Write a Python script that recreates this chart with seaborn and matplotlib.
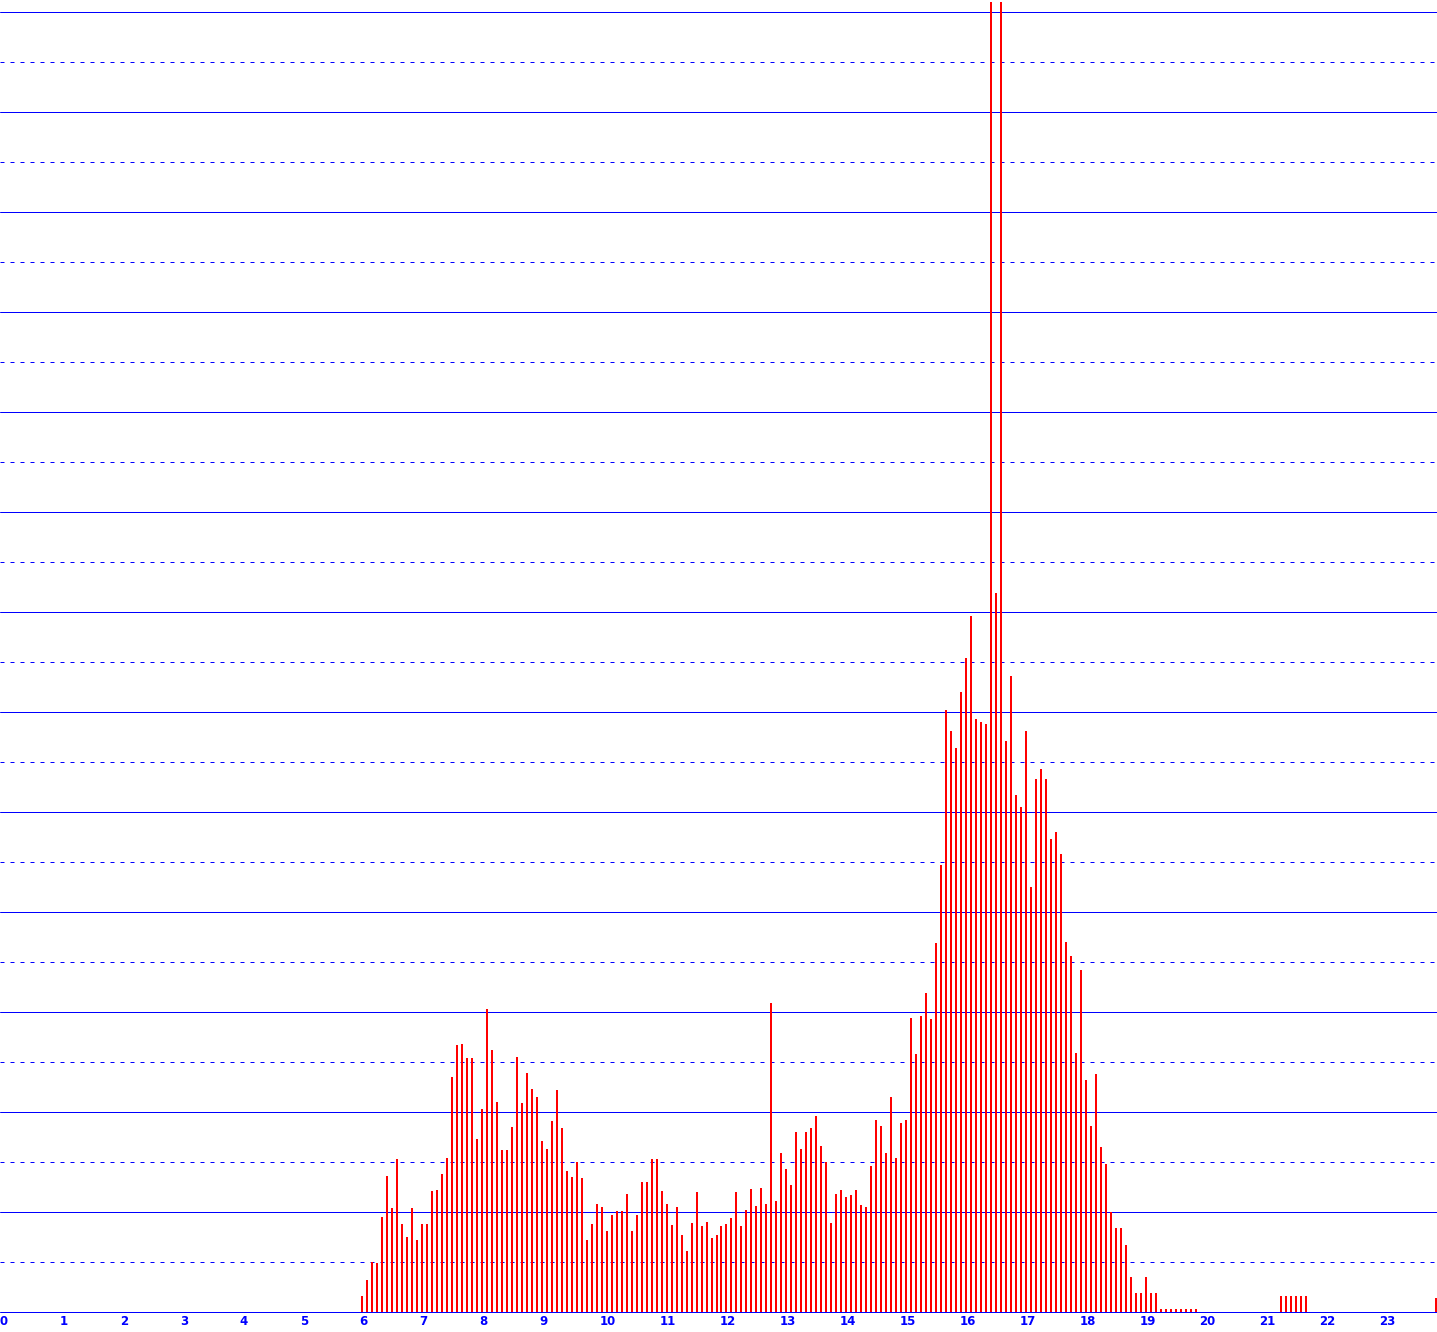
import pandas as pd
import matplotlib
matplotlib.use("Agg")  # no display
import matplotlib.pyplot as plt
import seaborn as sns

BLUE = "#0000ff"
RED = "#ff0000"

# hour labels along the bottom
hour_labels = [str(h) for h in range(24)]

# one bar per 5-minute slot, 06:00 .. 19:55
day_start = "06:00"
day_counts = [
    16, 32, 50, 49, 95, 136, 104, 153, 88, 75, 104, 72,          # 06
    88, 88, 121, 122, 138, 154, 235, 267, 268, 254, 254, 173,    # 07
    203, 303, 262, 210, 162, 162, 185, 255, 209, 239, 223, 215,  # 08
    171, 163, 191, 222, 184, 141, 135, 150, 134, 72, 88, 108,    # 09
    105, 81, 97, 101, 101, 118, 81, 97, 130, 130, 153, 153,      # 10
    121, 108, 87, 105, 77, 61, 89, 120, 86, 90, 74, 77,          # 11
    86, 88, 94, 120, 86, 102, 123, 106, 124, 108, 309, 111,      # 12
    159, 143, 127, 180, 163, 180, 184, 196, 166, 150, 89, 118,   # 13
    122, 115, 117, 122, 107, 105, 146, 192, 186, 159, 215, 154,  # 14
    189, 192, 294, 258, 296, 319, 293, 369, 447, 602, 581, 564,  # 15
    620, 654, 696, 593, 590, 588, 1310, 719, 1310, 571, 636, 517,  # 16
    505, 581, 425, 533, 543, 533, 473, 480, 458, 370, 356, 259,  # 17
    342, 232, 186, 238, 165, 148, 100, 84, 84, 67, 35, 19,       # 18
    19, 35, 19, 19, 3, 3, 3, 3, 3, 3, 3, 3,                      # 19
]

# the few late slots
late_times = ["21:20", "21:25", "21:30", "21:35", "21:40", "21:45", "23:55"]
late_counts = [16, 16, 16, 16, 16, 16, 14]


def to_minutes(t):
    h, m = t.split(":")
    return int(h) * 60 + int(m)


start = to_minutes(day_start)
minutes = [start + 5 * i for i in range(len(day_counts))] + [to_minutes(t) for t in late_times]
df = pd.DataFrame({"minute": minutes, "count": day_counts + late_counts})

sns.set_style("white")
plt.rcParams["font.family"] = ["DejaVu Sans"]

fig = plt.figure(figsize=(14.37, 13.32), dpi=100)
ax = fig.add_axes([0, 20 / 1332, 1, 1312 / 1332])

# horizontal guide lines: solid every 100, dotted in between
for y in range(50, 1301, 50):
    if y % 100 == 0:
        ax.axhline(y, color=BLUE, lw=0.72, zorder=0)
    else:
        ax.axhline(y, color=BLUE, lw=0.72, ls=(0, (4, 6)), zorder=0)
ax.axhline(0, color=BLUE, lw=0.72, zorder=3, clip_on=False)

sns.barplot(data=df, x="minute", y="count", native_scale=True, width=0.4,
            color=RED, saturation=1, linewidth=0, errorbar=None, ax=ax, zorder=2)

ax.set_xlim(-1, 1436)
ax.set_ylim(0, 1312)
ax.set_xticks([h * 60 - 2 for h in range(24)])
ax.set_xticklabels(hour_labels, ha="left", fontweight="bold")
ax.set_yticks([])
ax.set_xlabel("")
ax.set_ylabel("")
ax.tick_params(axis="x", length=0, pad=2, labelcolor=BLUE, labelsize=8.5)
for s in ax.spines.values():
    s.set_visible(False)

fig.savefig("out.png", dpi=100, facecolor="white")
plt.close(fig)
